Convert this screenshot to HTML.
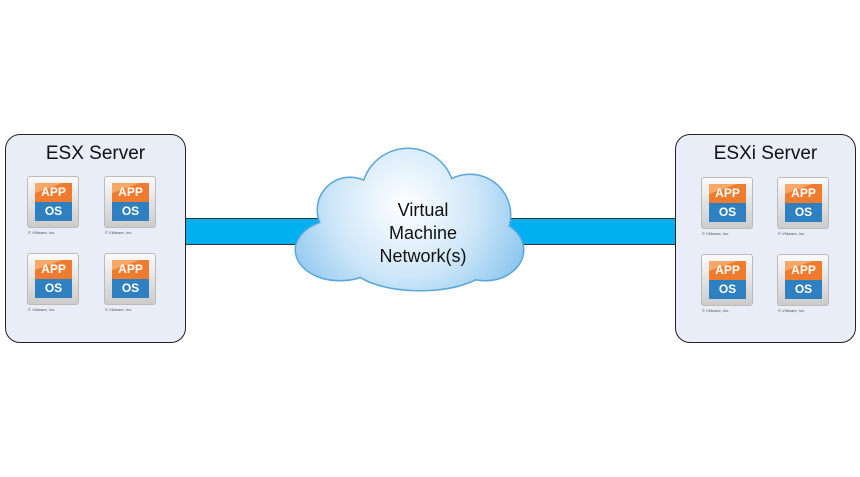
<!DOCTYPE html>
<html><head><style>
body{margin:0;width:860px;height:477px;background:#fff;position:relative;overflow:hidden;font-family:"Liberation Sans",sans-serif}
.box{position:absolute;top:134px;width:179px;height:207px;border:1.5px solid #222;border-radius:15px;background:#e8edf7}
.title{position:absolute;top:8px;left:0;right:0;text-align:center;font-size:19px;color:#111}
.bar{position:absolute;top:218px;height:25px;background:#00b0f0;border-top:1.5px solid #333;border-bottom:1.5px solid #333}
.ic{position:absolute;width:50px;height:50px;border:1px solid #bbb;border-radius:3px;background:linear-gradient(#fafafa,#ccc)}
.ic .a{position:absolute;left:7px;top:6px;width:37px;height:19px;background:linear-gradient(160deg,#f7a868 30%,#ef7c2e 32%);color:#fff;font-weight:bold;font-size:12px;text-align:center;line-height:19px}
.ic .o{position:absolute;left:7px;top:25px;width:37px;height:19px;background:#2f80c0;color:#fff;font-weight:bold;font-size:12px;text-align:center;line-height:19px}
.cp{position:absolute;font-size:4px;color:#555;white-space:nowrap}
</style></head><body>
<div class="bar" style="left:186px;width:140px"></div>
<div class="bar" style="left:500px;width:176px"></div>
<div class="box" style="left:5px"><div class="title">ESX Server</div></div>
<div class="box" style="left:675px"><div class="title">ESXi Server</div></div>

<div class="ic" style="left:27px;top:176px"><div class="a">APP</div><div class="o">OS</div></div><div class="cp" style="left:28px;top:230px">© VMware, Inc.</div>
<div class="ic" style="left:104px;top:176px"><div class="a">APP</div><div class="o">OS</div></div><div class="cp" style="left:105px;top:230px">© VMware, Inc.</div>
<div class="ic" style="left:27px;top:253px"><div class="a">APP</div><div class="o">OS</div></div><div class="cp" style="left:28px;top:307px">© VMware, Inc.</div>
<div class="ic" style="left:104px;top:253px"><div class="a">APP</div><div class="o">OS</div></div><div class="cp" style="left:105px;top:307px">© VMware, Inc.</div>

<div class="ic" style="left:701px;top:177px"><div class="a">APP</div><div class="o">OS</div></div><div class="cp" style="left:702px;top:231px">© VMware, Inc.</div>
<div class="ic" style="left:777px;top:177px"><div class="a">APP</div><div class="o">OS</div></div><div class="cp" style="left:778px;top:231px">© VMware, Inc.</div>
<div class="ic" style="left:701px;top:254px"><div class="a">APP</div><div class="o">OS</div></div><div class="cp" style="left:702px;top:308px">© VMware, Inc.</div>
<div class="ic" style="left:777px;top:254px"><div class="a">APP</div><div class="o">OS</div></div><div class="cp" style="left:778px;top:308px">© VMware, Inc.</div>

<svg style="position:absolute;left:0;top:0" width="860" height="477">
<defs><radialGradient id="g" gradientUnits="userSpaceOnUse" cx="405" cy="205" r="130"><stop offset="0" stop-color="#ffffff"/><stop offset="0.55" stop-color="#cfe7f9"/><stop offset="1" stop-color="#8cc6ee"/></radialGradient></defs>
<g stroke="#5aa7dc" stroke-width="3" fill="#5aa7dc">
<ellipse cx="340" cy="250" rx="44" ry="30"/><circle cx="350" cy="210" r="32"/><circle cx="408" cy="195" r="46"/><circle cx="470" cy="215" r="40"/><ellipse cx="485" cy="250" rx="38" ry="30"/><ellipse cx="420" cy="262" rx="70" ry="28"/><ellipse cx="410" cy="235" rx="70" ry="35"/>
</g>
<g fill="url(#g)">
<ellipse cx="340" cy="250" rx="44" ry="30"/><circle cx="350" cy="210" r="32"/><circle cx="408" cy="195" r="46"/><circle cx="470" cy="215" r="40"/><ellipse cx="485" cy="250" rx="38" ry="30"/><ellipse cx="420" cy="262" rx="70" ry="28"/><ellipse cx="410" cy="235" rx="70" ry="35"/>
</g>
<g font-family="Liberation Sans, sans-serif" font-size="18" fill="#111" text-anchor="middle">
<text x="423" y="216">Virtual</text><text x="423" y="239">Machine</text><text x="423" y="262">Network(s)</text>
</g>
</svg>
</body></html>
